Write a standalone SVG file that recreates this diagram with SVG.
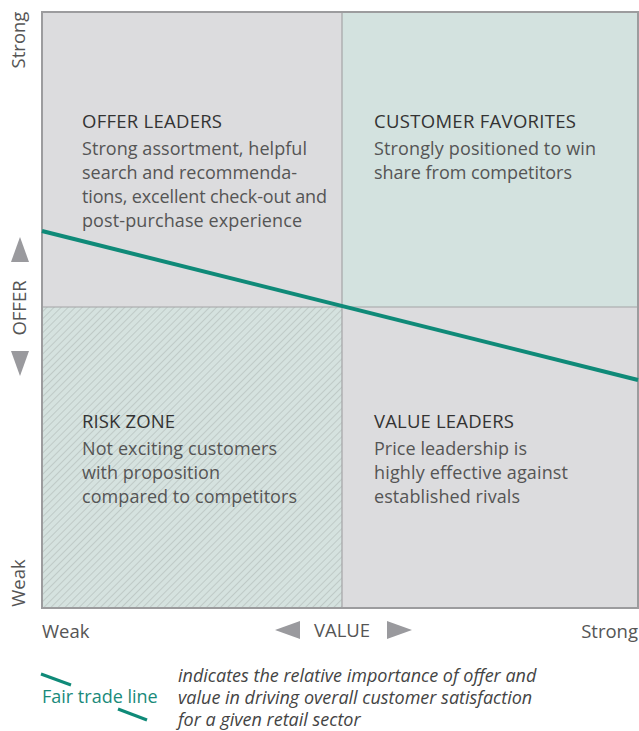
<svg xmlns="http://www.w3.org/2000/svg" width="639" height="731" viewBox="0 0 639 731">
<style>
.t{font-family:"Open Sans",Lato,sans-serif;font-size:18.5px;fill:#333}
.b{font-family:"Open Sans",Lato,sans-serif;font-size:18px;fill:#555}
.ax{font-family:"Open Sans",Lato,sans-serif;font-size:18.5px;fill:#555}
.it{font-family:"Open Sans",Lato,sans-serif;font-size:18px;font-style:italic;fill:#444}
.tri{fill:#9a9a9e}
.ft{stroke:#0f8a78;stroke-width:4;fill:none}
</style>
<defs>
<pattern id="hatch" patternUnits="userSpaceOnUse" width="5" height="5" patternTransform="rotate(45)">
<rect width="5" height="5" fill="#d5e2df"/>
<line x1="0" y1="0" x2="0" y2="5" stroke="#adb6b4" stroke-width="1.1"/>
</pattern>
</defs>
<g id="quadrants">
<rect id="offer-leaders-bg" x="42" y="12" width="300" height="295" fill="#dcdcde"/>
<rect id="customer-favorites-bg" x="342" y="12" width="296" height="295" fill="#d3e2df"/>
<rect id="risk-zone-bg" x="42" y="307" width="300" height="301" fill="url(#hatch)"/>
<rect id="value-leaders-bg" x="342" y="307" width="296" height="301" fill="#dcdcde"/>
<line x1="342" y1="12" x2="342" y2="608" stroke="#a4a4a6" stroke-width="1.2"/>
<line x1="42" y1="307" x2="638" y2="307" stroke="#a4a4a6" stroke-width="1.2"/>
<rect x="42" y="12" width="596" height="596" fill="none" stroke="#9c9c9e" stroke-width="2"/>
</g>
<g id="offer-leaders">
<text class="t" x="82" y="128" textLength="140">OFFER LEADERS</text>
<text class="b" x="82" y="155" textLength="225">Strong assortment, helpful</text>
<text class="b" x="82" y="179" textLength="215">search and recommenda-</text>
<text class="b" x="82" y="203" textLength="245">tions, excellent check-out and</text>
<text class="b" x="82" y="227" textLength="220">post-purchase experience</text>
</g>
<g id="customer-favorites">
<text class="t" x="374" y="128" textLength="202">CUSTOMER FAVORITES</text>
<text class="b" x="374" y="155" textLength="222">Strongly positioned to win</text>
<text class="b" x="374" y="179" textLength="198">share from competitors</text>
</g>
<g id="risk-zone">
<text class="t" x="82" y="428" textLength="93">RISK ZONE</text>
<text class="b" x="82" y="455" textLength="195">Not exciting customers</text>
<text class="b" x="82" y="479" textLength="138">with proposition</text>
<text class="b" x="82" y="503" textLength="215">compared to competitors</text>
</g>
<g id="value-leaders">
<text class="t" x="374" y="428" textLength="140">VALUE LEADERS</text>
<text class="b" x="374" y="455" textLength="153">Price leadership is</text>
<text class="b" x="374" y="479" textLength="194">highly effective against</text>
<text class="b" x="374" y="503" textLength="146">established rivals</text>
</g>
<g id="connectors">
<line class="ft" x1="42" y1="231" x2="638" y2="380"/>
</g>
<g id="axes">
<text class="ax" transform="translate(25,40) rotate(-90)" text-anchor="middle">Strong</text>
<text class="ax" transform="translate(25,583) rotate(-90)" text-anchor="middle">Weak</text>
<text class="ax" transform="translate(26,308) rotate(-90)" text-anchor="middle">OFFER</text>
<polygon class="tri" points="20,237 29,262 11,262"/>
<polygon class="tri" points="11,351 29,351 20,376"/>
<text class="ax" x="42" y="638">Weak</text>
<text class="ax" x="638" y="638" text-anchor="end">Strong</text>
<text class="ax" x="342" y="637" text-anchor="middle">VALUE</text>
<polygon class="tri" points="275,630 300,621 300,639"/>
<polygon class="tri" points="387,621 412,630 387,639"/>
</g>
<g id="legend">
<line x1="41" y1="674" x2="71" y2="685" stroke="#0f8a78" stroke-width="3"/>
<line x1="118" y1="709" x2="147" y2="720" stroke="#0f8a78" stroke-width="3"/>
<text x="42" y="703" style="font-family:'Open Sans',Lato,sans-serif;font-size:18px;fill:#1a8a7a">Fair trade line</text>
<text class="it" x="178" y="682">indicates the relative importance of offer and</text>
<text class="it" x="178" y="704">value in driving overall customer satisfaction</text>
<text class="it" x="178" y="726">for a given retail sector</text>
</g>
</svg>
